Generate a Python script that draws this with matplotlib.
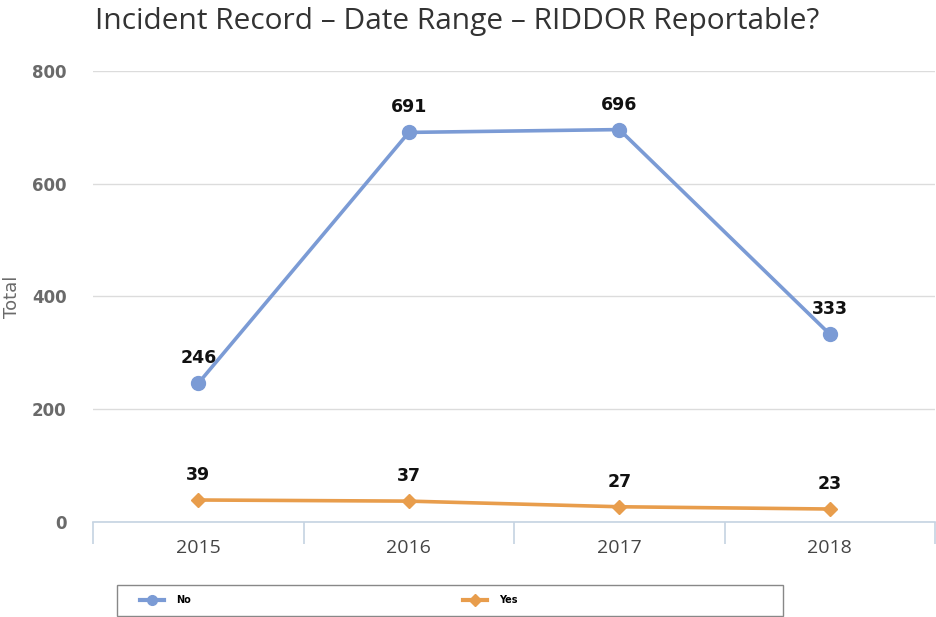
import numpy as np
import matplotlib.pyplot as plt
from matplotlib.lines import Line2D
from matplotlib.patches import Rectangle

# Data
years = ["2015", "2016", "2017", "2018"]
no_values = [246, 691, 696, 333]
yes_values = [39, 37, 27, 23]
y_ticks = [0, 200, 400, 600, 800]

BLUE = "#7b9bd5"
ORANGE = "#e89d4c"
GRID = "#dcdcdc"
AXIS = "#c5d3e2"
TICKTXT = "#6a6a6a"

NARROW = ["Open Sans", "DejaVu Sans"]
plt.rcParams["font.family"] = ["DejaVu Sans"]

fig = plt.figure(figsize=(9.37, 6.17), dpi=100)
ax = fig.add_axes([0.0993, 0.154, 0.8987, 0.731])

x = np.arange(len(years))

ax.plot(x, no_values, color=BLUE, lw=2.6, marker="o", ms=10, label="No", zorder=3)
ax.plot(x, yes_values, color=ORANGE, lw=2.6, marker="D", ms=7, label="Yes", zorder=3)

# value labels above each point
for xi, v in zip(x, no_values):
    ax.annotate(str(v), (xi, v), xytext=(0, 18), textcoords="offset points",
                ha="center", va="center", fontsize=12.5, fontweight="bold", color="#111111")
for xi, v in zip(x, yes_values):
    ax.annotate(str(v), (xi, v), xytext=(0, 18), textcoords="offset points",
                ha="center", va="center", fontsize=12.5, fontweight="bold", color="#111111")

ax.set_xlim(-0.5, len(years) - 0.5)
ax.set_ylim(0, 800)
ax.set_yticks(y_ticks)
ax.set_xticks(x)
ax.set_xticklabels(years, family=NARROW, fontsize=14, color="#444444")
ax.set_xticks(np.arange(-0.5, len(years)), minor=True)

ax.grid(axis="y", color=GRID, lw=1)
ax.set_axisbelow(True)
for s in ["left", "right", "top"]:
    ax.spines[s].set_visible(False)
ax.spines["bottom"].set_color(AXIS)
ax.spines["bottom"].set_linewidth(1.2)

ax.tick_params(axis="x", which="major", length=0, pad=12)
ax.tick_params(axis="x", which="minor", length=16, width=1.2, color=AXIS)
ax.tick_params(axis="y", length=0, pad=19, labelsize=12, labelcolor=TICKTXT)
for lbl in ax.get_yticklabels():
    lbl.set_fontweight("bold")

ax.set_ylabel("Total", fontsize=13, color=TICKTXT)
ax.yaxis.set_label_coords(-0.085, 0.5)

fig.text(0.101, 0.965, "Incident Record \u2013 Date Range \u2013 RIDDOR Reportable?",
         fontsize=21.5, color="#333333", ha="left", va="center", family=NARROW)

# legend box with fixed extent, entries placed inside
fig.patches.append(Rectangle((117 / 937, 1 - 616 / 617), 666 / 937, 31 / 617,
                             transform=fig.transFigure, fill=False,
                             edgecolor="#888888", lw=1))
handles = [Line2D([0], [0], color=BLUE, lw=3, marker="o", ms=7),
           Line2D([0], [0], color=ORANGE, lw=3, marker="D", ms=6)]
fig.legend(handles, ["No", "Yes"], ncol=2, loc="center left",
           bbox_to_anchor=(140 / 937, 1 - 600 / 617), frameon=False,
           prop={"size": 7, "weight": "bold"}, handlelength=2.5,
           handletextpad=1.2, columnspacing=28, borderaxespad=0, borderpad=0)

fig.savefig("out.png", dpi=100)
